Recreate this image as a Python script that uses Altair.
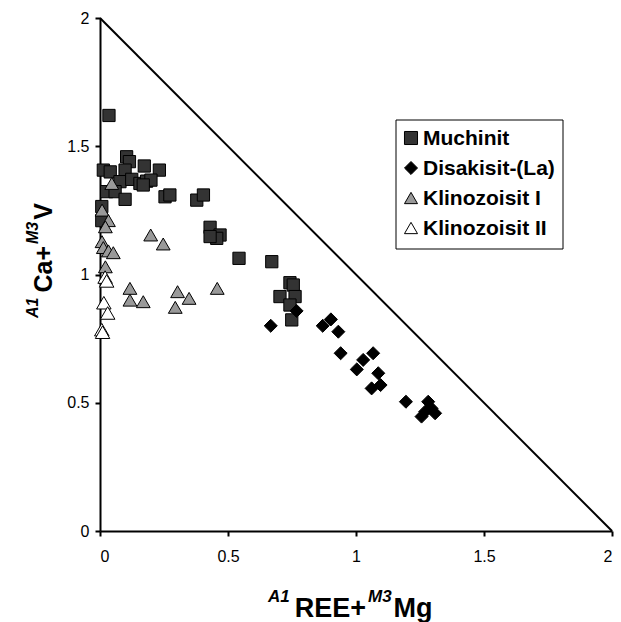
import altair as alt
import pandas as pd

# ---- data ----
series_names = ["Muchinit", "Disakisit-(La)", "Klinozoisit I", "Klinozoisit II"]
series_fill = ["#333333", "#000000", "#999999", "#ffffff"]
series_shape = ["square", "diamond", "triangle-up", "triangle-up"]

much_x = [0.035, 0.013, 0.040, 0.104, 0.115, 0.098, 0.173, 0.232, 0.078, 0.124, 0.156, 0.182,
          0.199, 0.169, 0.026, 0.059, 0.098, 0.254, 0.273, 0.378, 0.404, 0.007, 0.007, 0.430,
          0.469, 0.456, 0.430, 0.543, 0.671, 0.742, 0.755, 0.703, 0.762, 0.742, 0.749]
much_y = [1.620, 1.407, 1.400, 1.459, 1.440, 1.407, 1.423, 1.407, 1.362, 1.371, 1.355, 1.364,
          1.368, 1.349, 1.323, 1.323, 1.293, 1.303, 1.310, 1.290, 1.310, 1.265, 1.210, 1.184,
          1.154, 1.141, 1.148, 1.063, 1.050, 0.968, 0.959, 0.914, 0.914, 0.881, 0.823]

dis_x = [0.667, 0.768, 0.870, 0.902, 0.931, 0.940, 1.067, 1.028, 1.003, 1.087, 1.096, 1.061,
         1.195, 1.282, 1.295, 1.256, 1.309, 1.270]
dis_y = [0.800, 0.858, 0.800, 0.825, 0.777, 0.693, 0.693, 0.667, 0.630, 0.615, 0.569, 0.556,
         0.504, 0.504, 0.478, 0.446, 0.459, 0.465]

kl1_x = [0.046, 0.008, 0.033, 0.021, 0.008, 0.013, 0.033, 0.052, 0.198, 0.247, 0.021, 0.117,
         0.117, 0.169, 0.303, 0.348, 0.294, 0.458]
kl1_y = [1.355, 1.251, 1.210, 1.186, 1.128, 1.105, 1.092, 1.085, 1.154, 1.119, 1.030, 0.946,
         0.900, 0.894, 0.933, 0.907, 0.872, 0.946]

kl2_x = [0.020, 0.026, 0.015, 0.030, 0.007, 0.010]
kl2_y = [0.990, 0.975, 0.890, 0.850, 0.785, 0.775]

tri_x = [0, 2]
tri_y = [2, 0]
tick_values = [0, 0.5, 1, 1.5, 2]

# ---- build table ----
rows = []
for name, xs, ys in zip(series_names, [much_x, dis_x, kl1_x, kl2_x], [much_y, dis_y, kl1_y, kl2_y]):
    for a, b in zip(xs, ys):
        rows.append({"x": a, "y": b, "s": name, "sz": name})
df = pd.DataFrame(rows)

FONT = "Liberation Sans"
W, H = 512, 513

xscale = alt.Scale(domain=[0, 2], nice=False, zero=False)
yscale = alt.Scale(domain=[0, 2], nice=False, zero=False)

xaxis = alt.Axis(values=tick_values, format="~g", title=None, grid=False)
yaxis = alt.Axis(values=tick_values, format="~g", title=None, grid=False)

tri = alt.Chart(pd.DataFrame({"x": tri_x, "y": tri_y})).mark_line(
    color="black", strokeWidth=2
).encode(
    x=alt.X("x:Q", scale=xscale, axis=xaxis),
    y=alt.Y("y:Q", scale=yscale, axis=yaxis),
)

points = alt.Chart(df).mark_point(filled=True, stroke="black", strokeWidth=1, opacity=1).encode(
    x=alt.X("x:Q", scale=xscale, axis=xaxis),
    y=alt.Y("y:Q", scale=yscale, axis=yaxis),
    fill=alt.Fill("s:N", scale=alt.Scale(domain=series_names, range=series_fill), legend=None),
    shape=alt.Shape("s:N", scale=alt.Scale(domain=series_names, range=series_shape), legend=None),
    size=alt.Size("sz:N", scale=alt.Scale(domain=series_names, range=[150, 210, 190, 190]),
                  legend=None),
)

# ---- axis titles with superscripts (rich text built from pieces) ----
adv = {"A": 722, "1": 556, "R": 722, "E": 667, "+": 584, "M": 833, "3": 556, "g": 611,
       "C": 722, "a": 556, "V": 667}


def width(s, fs):
    return sum(adv[c] for c in s) * fs / 1000.0


x_pieces = [("A1", 17, True), ("REE+", 27, False), ("M3", 17, True), ("Mg", 27, False)]
y_pieces = [("A1", 16, True), ("Ca+", 25, False), ("M3", 16, True), ("V", 25, False)]
gaps = [0, 5, 2, 2]

layers = [tri, points]

cx = 168
for (txt, fs, sup), g in zip(x_pieces, gaps):
    cx += g
    layers.append(
        alt.Chart(pd.DataFrame({"t": [txt]})).mark_text(
            align="left", baseline="alphabetic", font=FONT, fontSize=fs, fontWeight="bold",
            fontStyle="italic" if sup else "normal", color="black"
        ).encode(text="t:N", x=alt.value(cx), y=alt.value(583.5 if sup else 598.5))
    )
    cx += width(txt, fs)

cy = 300
for (txt, fs, sup), g in zip(y_pieces, gaps):
    cy -= g
    layers.append(
        alt.Chart(pd.DataFrame({"t": [txt]})).mark_text(
            align="left", baseline="alphabetic", angle=270, font=FONT, fontSize=fs,
            fontWeight="bold", fontStyle="italic" if sup else "normal", color="black"
        ).encode(text="t:N", x=alt.value(-62 if sup else -48), y=alt.value(cy))
    )
    cy -= width(txt, fs)

# ---- legend box (drawn as marks) ----
LX0, LX1, LY0, LY1 = 296, 463, 102, 231
layers.append(
    alt.Chart(pd.DataFrame({"a": [0]})).mark_rect(
        fill="white", stroke="black", strokeWidth=1
    ).encode(x=alt.value(LX0), x2=alt.value(LX1), y=alt.value(LY0), y2=alt.value(LY1))
)
for i, (name, f, shp) in enumerate(zip(series_names, series_fill, series_shape)):
    ry = 120 + 30 * i
    layers.append(
        alt.Chart(pd.DataFrame({"t": [name]})).mark_point(
            filled=True, fill=f, stroke="black", strokeWidth=1, shape=shp, size=170, opacity=1
        ).encode(x=alt.value(311), y=alt.value(ry))
    )
    layers.append(
        alt.Chart(pd.DataFrame({"t": [name]})).mark_text(
            align="left", baseline="middle", font=FONT, fontSize=21, fontWeight="bold",
            color="black"
        ).encode(text="t:N", x=alt.value(323), y=alt.value(ry + 1))
    )

chart = alt.layer(*layers).properties(
    width=W, height=H,
    autosize=alt.AutoSizeParams(type="none"),
    padding={"left": 100, "top": 18, "right": 9, "bottom": 91},
).configure_view(stroke=None).configure_axis(
    domainColor="black", domainWidth=2, tickColor="black", tickWidth=2, tickSize=5,
    labelFont=FONT, labelFontSize=16, labelColor="black",
).configure_axisX(labelPadding=12).configure_axisY(labelPadding=6)

chart.save("out.html", embed_options={"renderer": "svg", "actions": False})
